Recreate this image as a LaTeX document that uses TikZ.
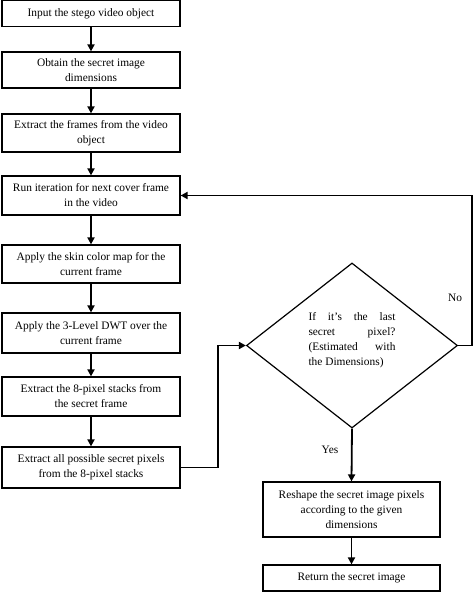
\documentclass[tikz,border=0pt]{standalone}
\usepackage{fontspec}
\setmainfont{Liberation Serif}
\usetikzlibrary{shapes.geometric,arrows.meta}
\begin{document}
\begin{tikzpicture}[x=1pt,y=-1pt,
  every node/.style={font=\fontsize{11.4}{15}\selectfont},
  stepbox/.style={draw, line width=1.2pt, minimum width=178pt, inner sep=0pt, align=center},
  flow/.style={line width=1.8pt, -{Triangle[length=7pt,width=7pt]}},
  lbl/.style={inner sep=0pt}]
\useasboundingbox (0,0) rectangle (474,592);
\node[stepbox, minimum height=26pt] (b1) at (91,13.5) {Input the stego video object};
\node[stepbox, minimum height=36pt] (b2) at (91,70) {Obtain the secret image\\dimensions};
\node[stepbox, minimum height=38pt] (b3) at (91,133) {Extract the frames from the video\\object};
\node[stepbox, minimum height=39pt] (b4) at (91,195.5) {Run iteration for next cover frame\\in the video};
\node[stepbox, minimum height=38pt] (b5) at (91,264) {Apply the skin color map for the\\current frame};
\node[stepbox, minimum height=40pt] (b6) at (91,333) {Apply the 3-Level DWT over the\\current frame};
\node[stepbox, minimum height=39pt] (b7) at (91,396.5) {Extract the 8-pixel stacks from\\the secret frame};
\node[stepbox, minimum height=41pt] (b8) at (91,467.5) {Extract all possible secret pixels\\from the 8-pixel stacks};
\node[diamond, draw, line width=1.2pt, minimum width=211pt, minimum height=165pt, inner sep=0pt] (dec) at (352,345.5) {};
\node[lbl, align=left] (dectext) at (352,340) {\makebox[87pt][s]{If it’s the last}\\\makebox[87pt][s]{secret pixel?}\\\makebox[87pt][s]{(Estimated with}\\\makebox[87pt][l]{the Dimensions)}};
\node[stepbox, minimum width=177pt, minimum height=55pt] (b9) at (351.5,509.5) {Reshape the secret image pixels\\according to the given\\dimensions};
\node[stepbox, minimum width=177pt, minimum height=26pt] (b10) at (351.5,578) {Return the secret image};
\coordinate (c1) at (218,467.5);
\coordinate (c2) at (472,345.5);
\draw[flow] (b1) -- (b2);
\draw[flow] (b2) -- (b3);
\draw[flow] (b3) -- (b4);
\draw[flow] (b4) -- (b5);
\draw[flow] (b5) -- (b6);
\draw[flow] (b6) -- (b7);
\draw[flow] (b7) -- (b8);
\draw[flow] (b8.east) -- (c1) |- (dec.west);
\draw[flow] (dec.east) -- (c2) |- (b4.east);
\draw[flow] (dec.south) -- (b9.north);
\draw[flow] (b9) -- (b10);
\node[lbl] (no) at (455,298) {No};
\node[lbl] (yes) at (330,450) {Yes};
\end{tikzpicture}
\end{document}
